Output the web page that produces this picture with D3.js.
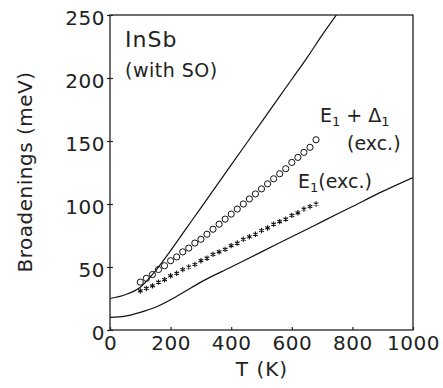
<!DOCTYPE html>
<html>
<head>
<meta charset="utf-8">
<script src="https://cdn.jsdelivr.net/npm/d3@7"></script>
<style>
  body { margin: 0; background: #fff; }
  text { font-family: "DejaVu Sans", sans-serif; fill: #222; }
</style>
</head>
<body>
<div id="chart"></div>
<script>
// theory curves (solid lines)
const upperT = [0, 50, 100, 150, 200, 250, 300, 350, 400, 450, 500, 550, 600, 650, 700, 750];
const upperB = [25, 28, 34, 47, 63, 80, 97, 114, 131, 148, 165, 182, 199, 216, 234, 251];
const lowerT = [0, 50, 100, 150, 200, 250, 300, 400, 500, 600, 700, 800, 900, 1000];
const lowerB = [10, 11, 14, 18, 24, 31, 38, 50, 62, 74, 86, 98, 110, 121];

// experimental points
const expT = [100, 120, 140, 160, 180, 200, 220, 240, 260, 280, 300, 320, 340, 360, 380,
              400, 420, 440, 460, 480, 500, 520, 540, 560, 580, 600, 620, 640, 660, 680];
const e1d1 = [38, 41, 44, 48, 51, 55, 58, 62, 65, 69, 72, 76, 80, 84, 88,
              92, 96, 100, 104, 108, 112, 116, 120, 124, 128, 133, 137, 141, 145, 151];
const e1 = [31, 33, 35, 38, 40, 43, 45, 48, 50, 52, 55, 57, 60, 62, 64,
            67, 69, 72, 74, 76, 79, 81, 84, 86, 88, 91, 93, 96, 98, 100];

const xTicks = [0, 200, 400, 600, 800, 1000];
const yTicks = [0, 50, 100, 150, 200, 250];

const W = 443, H = 388;
const margin = {top: 15, right: 30, bottom: 58, left: 110};
const width = W - margin.left - margin.right;
const height = H - margin.top - margin.bottom;

const svg = d3.select("#chart").append("svg")
    .attr("width", W).attr("height", H);
const g = svg.append("g")
    .attr("transform", `translate(${margin.left},${margin.top})`);

const x = d3.scaleLinear().domain([0, 1000]).range([0, width]);
const y = d3.scaleLinear().domain([0, 250]).range([height, 0]);

g.append("clipPath").attr("id", "clip")
  .append("rect").attr("width", width).attr("height", height);

const line = d3.line()
    .x(d => x(d[0])).y(d => y(d[1]))
    .curve(d3.curveMonotoneX);

[[upperT, upperB], [lowerT, lowerB]].forEach(([t, b]) => {
  g.append("path")
    .datum(d3.zip(t, b))
    .attr("clip-path", "url(#clip)")
    .attr("fill", "none")
    .attr("stroke", "#111")
    .attr("stroke-width", 1.2)
    .attr("d", line);
});

// E1 + Delta1 : open circles
g.selectAll(".circ").data(d3.zip(expT, e1d1)).join("circle")
    .attr("class", "circ")
    .attr("cx", d => x(d[0])).attr("cy", d => y(d[1]))
    .attr("r", 3.1)
    .attr("fill", "none").attr("stroke", "#111").attr("stroke-width", 1);

// E1 : asterisks
const star = d3.symbol().type(d3.symbolAsterisk).size(20);
g.selectAll(".star").data(d3.zip(expT, e1)).join("path")
    .attr("class", "star")
    .attr("transform", d => `translate(${x(d[0])},${y(d[1])})`)
    .attr("d", star)
    .attr("fill", "none").attr("stroke", "#111").attr("stroke-width", 1.1);

// frame
g.append("rect").attr("width", width).attr("height", height)
    .attr("fill", "none").attr("stroke", "#222").attr("stroke-width", 1.3);

// axes
const xAxis = g.append("g").attr("transform", `translate(0,${height})`)
    .call(d3.axisBottom(x).tickValues(xTicks).tickFormat(d3.format("d"))
      .tickSizeInner(-3).tickSizeOuter(0).tickPadding(8));
const yAxis = g.append("g")
    .call(d3.axisLeft(y).tickValues(yTicks).tickFormat(d3.format("d"))
      .tickSizeInner(3).tickSizeOuter(0).tickPadding(3));
[xAxis, yAxis].forEach(a => {
  a.select(".domain").remove();
  a.selectAll(".tick line").attr("stroke", "#222").attr("stroke-width", 1.2);
  a.selectAll("text").style("font-size", "20px").attr("fill", "#222")
    .style("letter-spacing", "0.5px");
});
yAxis.selectAll(".tick line").attr("x2", 3).attr("x1", -3);
yAxis.selectAll("text").attr("dy", "0.45em").attr("x", -5);
xAxis.selectAll("text").attr("dy", "0.6em");

// axis titles
svg.append("text")
    .attr("transform", `translate(32,172) rotate(-90)`)
    .attr("text-anchor", "middle")
    .style("font-size", "20px").style("letter-spacing", "0.5px")
    .text("Broadenings (meV)");
svg.append("text")
    .attr("x", 262).attr("y", 376)
    .attr("text-anchor", "middle")
    .style("font-size", "20px").style("letter-spacing", "1px")
    .text("T (K)");

// annotations
svg.append("text").attr("x", 125).attr("y", 47)
    .style("font-size", "22px").style("letter-spacing", "1px").text("InSb");
svg.append("text").attr("x", 125).attr("y", 77)
    .style("font-size", "19px").style("letter-spacing", "0.5px").text("(with SO)");

const l1 = svg.append("text").attr("x", 320).attr("y", 122).style("font-size", "19px");
l1.append("tspan").text("E");
l1.append("tspan").attr("dy", 4).style("font-size", "13px").text("1");
l1.append("tspan").attr("dy", -4).text(" + Δ");
l1.append("tspan").attr("dy", 4).style("font-size", "13px").text("1");
svg.append("text").attr("x", 347).attr("y", 150)
    .style("font-size", "19px").text("(exc.)");

const l2 = svg.append("text").attr("x", 298).attr("y", 188).style("font-size", "19px");
l2.append("tspan").text("E");
l2.append("tspan").attr("dy", 4).style("font-size", "13px").text("1");
l2.append("tspan").attr("dy", -4).text("(exc.)");
</script>
</body>
</html>
